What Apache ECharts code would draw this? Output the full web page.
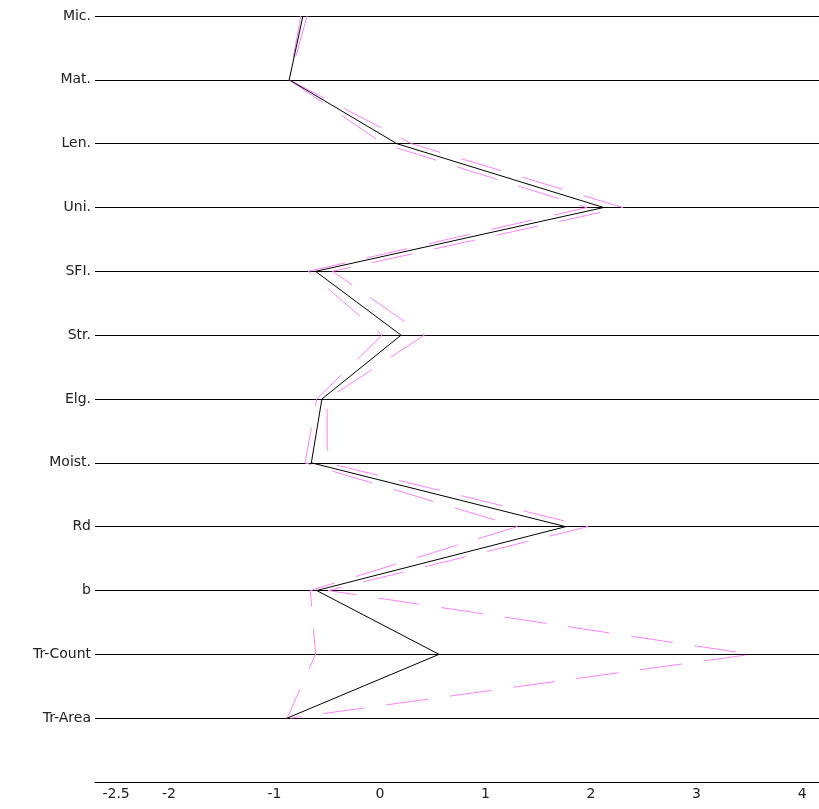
<!DOCTYPE html>
<html>
<head>
<meta charset="utf-8">
<script src="https://cdn.jsdelivr.net/npm/echarts@6/dist/echarts.min.js"></script>
<style>
  html, body { margin: 0; padding: 0; background: #fff; }
  #main { width: 819px; height: 809px; }
</style>
</head>
<body>
<div id="main"></div>
<script>
// variables, top to bottom (last one is the empty slot above the x axis)
var categories = ["Mic.", "Mat.", "Len.", "Uni.", "SFI.", "Str.", "Elg.", "Moist.", "Rd", "b", "Tr-Count", "Tr-Area", ""];
var xTicks = [-2.5, -2, -1, 0, 1, 2, 3, 4];

// profile values
var solidLine = [-0.73, -0.86, 0.16, 2.12, -0.61, 0.20, -0.55, -0.65, 1.76, -0.60, 0.56, -0.88];
var dashLeft = [-0.75, -0.86, 0.03, 1.96, -0.68, 0.02, -0.60, -0.71, 1.30, -0.66, -0.61, -0.88];
var dashRight = [-0.69, -0.86, 0.30, 2.30, -0.45, 0.42, -0.50, -0.50, 1.97, -0.49, 3.52, -0.85];

var chart = echarts.init(document.getElementById("main"));

var labelFont = { fontFamily: "DejaVu Sans", fontSize: 14, fontWeight: "normal", color: "#222" };

chart.setOption({
  animation: false,
  backgroundColor: "#fff",
  grid: { left: 95, right: 0, top: 16, bottom: 27 },
  xAxis: {
    type: "value",
    min: -2.7,
    max: 4.16,
    axisLine: { show: true, lineStyle: { color: "#000", width: 1 } },
    axisTick: { show: false },
    splitLine: { show: false },
    axisLabel: Object.assign({ margin: 5, customValues: xTicks }, labelFont)
  },
  yAxis: {
    type: "category",
    data: categories,
    inverse: true,
    boundaryGap: false,
    axisLine: { show: false },
    axisTick: { show: false },
    axisLabel: Object.assign({ interval: 0, margin: 4 }, labelFont),
    splitLine: { show: true, interval: 0, lineStyle: { color: "#000", width: 1 } }
  },
  series: [
    {
      name: "left",
      type: "line",
      data: dashLeft,
      symbol: "none",
      lineStyle: { color: "#ff80ff", width: 1, type: [42, 22] }
    },
    {
      name: "right",
      type: "line",
      data: dashRight,
      symbol: "none",
      lineStyle: { color: "#ff80ff", width: 1, type: [42, 22] }
    },
    {
      name: "solid",
      type: "line",
      data: solidLine,
      symbol: "none",
      lineStyle: { color: "#000", width: 1 }
    }
  ]
});
</script>
</body>
</html>
